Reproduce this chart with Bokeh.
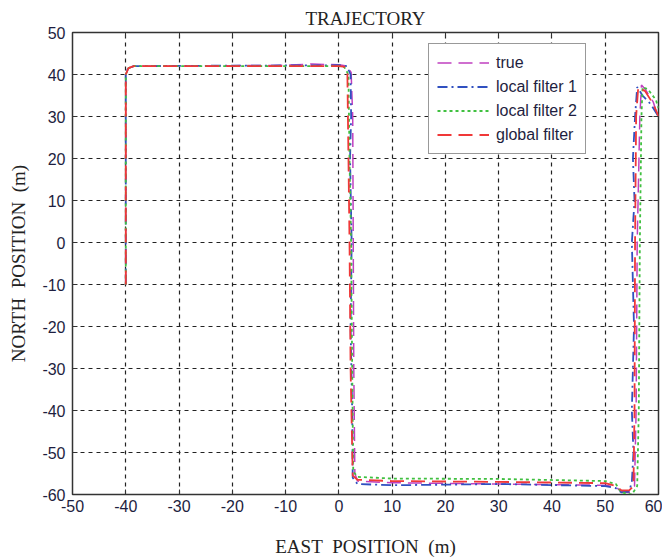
from bokeh.plotting import figure
from bokeh.models import (FixedTicker, LinearAxis, Range1d, Legend, LegendItem)
from bokeh.embed import file_html
from bokeh.resources import INLINE

# ---- data (metres) ----
true_x = [-40, -40, -39.5, -38.5, -20, -10, -5, 0, 1.5, 2.3, 2.6, 2.7, 2.8, 3.0, 3.5, 10, 30, 50, 52, 53, 54.5, 55.5, 55.8, 56.0, 56.5, 56.8, 57.5, 59, 60]
true_y = [-10, 40, 41.5, 42, 42.1, 42.2, 42.5, 42.3, 42, 40.5, 30, 0, -30, -55, -56.8, -57.2, -57.5, -57.8, -58.2, -59.3, -59.5, -58, -40, 0, 30, 37.5, 36.5, 33.5, 29.5]

lf1_x = [-40, -40, -39.6, -38.5, -20, 0, 1.5, 2.2, 2.3, 2.1, 2.4, 2.2, 2.5, 2.6, 3.5, 10, 30, 50, 52, 53, 54.5, 55, 55.3, 55.0, 55.4, 55.0, 55.5, 55.2, 55.6, 56, 57, 58.5, 60]
lf1_y = [-10, 40, 41.5, 42, 42.1, 42.2, 42, 40, 30, 20, 0, -20, -40, -56, -57.5, -57.8, -57.5, -58, -58.5, -59.5, -59.3, -57, -50, -40, -20, 0, 10, 20, 30, 37, 35, 33, 30]

lf2_x = [-40, -40, -39.5, -38.5, -20, 0, 1, 1.8, 2.0, 2.3, 2.5, 2.7, 3.5, 10, 30, 50, 52, 53, 55, 56, 56.3, 56.5, 56.8, 57, 58, 59.5, 60]
lf2_y = [-10, 40, 41.5, 42, 42, 42, 41.8, 40, 20, 0, -30, -54.5, -55.8, -56.2, -56.3, -56.8, -57.5, -59.5, -60, -58, -40, 0, 30, 37, 36.5, 34, 32]

gf_x = [-40, -40, -39.5, -38.5, -20, 0, 1.2, 1.6, 1.8, 2.0, 2.2, 2.6, 3.5, 10, 30, 50, 52, 53, 54.5, 55.3, 55.5, 55.6, 55.8, 56.2, 57.5, 59, 60]
gf_y = [-10, 40, 41.5, 42, 42, 42, 41.8, 40, 20, 0, -30, -55.5, -56.5, -56.8, -57, -57.3, -58, -59, -59, -58, -40, 0, 30, 37, 36, 33, 30]

x_ticks = [-50, -40, -30, -20, -10, 0, 10, 20, 30, 40, 50, 60]
y_ticks = [-60, -50, -40, -30, -20, -10, 0, 10, 20, 30, 40, 50]
labels = ["true", "local filter 1", "local filter 2", "global filter"]

TICK_COLOR = "#1e1e40"

p = figure(frame_width=586, frame_height=462, output_backend="svg", toolbar_location=None,
           x_range=Range1d(-50, 60), y_range=Range1d(-60, 50),
           min_border_left=72, min_border_top=32, min_border_bottom=60, min_border_right=4,
           title="TRAJECTORY",
           x_axis_label="EAST\u00a0 POSITION\u00a0 (m)",
           y_axis_label="NORTH\u00a0 POSITION\u00a0 (m)")
p.background_fill_color = "white"
p.border_fill_color = "white"
p.outline_line_color = "#333333"
p.outline_line_width = 1.5

p.title.align = "center"
p.title.text_font = "Liberation Serif"
p.title.text_font_size = "19px"
p.title.text_font_style = "normal"
p.title.text_color = "#222222"
p.title.standoff = 7

for ax, ticks in ((p.xaxis[0], x_ticks), (p.yaxis[0], y_ticks)):
    ax.ticker = FixedTicker(ticks=ticks)
    ax.major_label_overrides = {t: str(t) for t in ticks}
    ax.major_tick_in = 5
    ax.major_tick_out = 0
    ax.minor_tick_line_color = None
    ax.axis_line_color = "#333333"
    ax.major_tick_line_color = "#333333"
    ax.major_label_text_font = "Liberation Sans"
    ax.major_label_text_font_size = "16px"
    ax.major_label_text_color = TICK_COLOR
    ax.axis_label_text_font = "Liberation Serif"
    ax.axis_label_text_font_size = "19px"
    ax.axis_label_text_font_style = "normal"
    ax.axis_label_text_color = "#222222"
p.xaxis[0].major_label_standoff = 5
p.yaxis[0].major_label_standoff = 7
p.xaxis[0].axis_label_standoff = 21
p.yaxis[0].axis_label_standoff = 10

for loc, ticks in (("above", x_ticks), ("right", y_ticks)):
    ax = LinearAxis(ticker=FixedTicker(ticks=ticks), major_tick_in=5, major_tick_out=0,
                    minor_tick_line_color=None, axis_line_color=None,
                    major_tick_line_color="#333333",
                    major_label_overrides={t: "" for t in ticks},
                    major_label_standoff=0)
    p.add_layout(ax, loc)

p.grid.grid_line_color = "#222222"
p.grid.grid_line_dash = "4 4"
p.grid.grid_line_width = 1.2
p.xgrid.ticker = FixedTicker(ticks=x_ticks)
p.ygrid.ticker = FixedTicker(ticks=y_ticks)

r_true = p.line(true_x, true_y, line_color="#c040c0", line_width=1.5, line_dash="14 7")
r_lf1 = p.line(lf1_x, lf1_y, line_color="#3050c0", line_width=1.8, line_dash="10 4 2 4")
r_lf2 = p.line(lf2_x, lf2_y, line_color="#40c040", line_width=1.8, line_dash="3 3")
r_gf = p.line(gf_x, gf_y, line_color="#f03838", line_width=1.8, line_dash="14 7")

legend = Legend(items=[LegendItem(label=labels[0], renderers=[r_true]),
                       LegendItem(label=labels[1], renderers=[r_lf1]),
                       LegendItem(label=labels[2], renderers=[r_lf2]),
                       LegendItem(label=labels[3], renderers=[r_gf])],
                location=(356, 340))
legend.label_text_font = "Liberation Sans"
legend.label_text_font_size = "16px"
legend.label_text_color = TICK_COLOR
legend.glyph_width = 52
legend.glyph_height = 21
legend.label_height = 21
legend.spacing = 3
legend.padding = 8
legend.margin = 0
legend.label_standoff = 7
legend.border_line_color = "#333333"
legend.border_line_width = 1.5
legend.background_fill_alpha = 1
p.add_layout(legend)

open("out.html", "w").write(file_html(p, INLINE))
